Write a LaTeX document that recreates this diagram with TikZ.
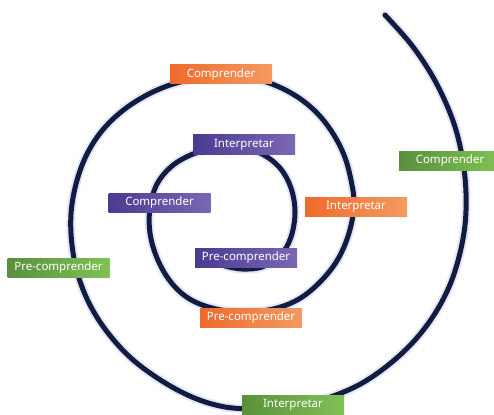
\documentclass[tikz,border=0pt]{standalone}
\usepackage{fontspec}
\setmainfont{Noto Sans}
\definecolor{navy}{HTML}{101C44}
\definecolor{halo}{HTML}{E6E7EE}
\definecolor{orL}{HTML}{EF6A2B}
\definecolor{orR}{HTML}{F39A62}
\definecolor{puL}{HTML}{4A3A91}
\definecolor{puR}{HTML}{7B68B4}
\definecolor{grL}{HTML}{5A903C}
\definecolor{grR}{HTML}{80C255}
\tikzset{
  spiral/.style={line width=5pt, draw=navy, line cap=round,
    preaction={draw=halo, line width=9pt, line cap=round}},
  tag/.style={minimum width=102pt, minimum height=19pt, inner sep=0pt,
    text=white, font=\fontsize{11.5}{13}\selectfont},
  orange/.style={tag, left color=orL, right color=orR},
  purple/.style={tag, left color=puL, right color=puR},
  green/.style={tag, left color=grL, right color=grR}
}
\begin{document}
\begin{tikzpicture}[x=1pt, y=-1pt]
\useasboundingbox (0,0) rectangle (494,414);
\draw[spiral] plot[smooth, tension=0.6] coordinates {
 (225,266) (242,269) (262,267) (280,256) (291,237) (295,212) (291,188) (280,168)
 (262,154) (240,148) (215,149) (193,154) (172,166) (157,184) (150,208) (150,233)
 (157,258) (170,281) (188,298) (212,308) (242,312) (273,309) (299,299)
 (321,281) (338,259) (349,233) (354,205) (351,180) (344,155) (332,132) (316,112)
 (296,96) (272,84) (246,77) (220,76) (195,79) (170,85) (145,96) (121,112)
 (101,132) (86,156) (76,184) (71,214) (72,245) (78,275) (90,305) (108,333)
 (132,359) (162,381) (192,397) (220,406) (247,409) (276,409) (306,404) (336,395)
 (364,382) (392,362) (415,340) (434,315) (449,287) (459,257) (465,225) (466,193)
 (463,162) (456,130) (445,101) (430,72) (410,43) (385,15)};
\node[purple] (i1) at (244,144.5) {Interpretar};
\node[purple] (c1) at (159.5,202.5) {Comprender};
\node[purple] (p1) at (246,257.5) {Pre-comprender};
\node[orange] (c2) at (221,74.5) {Comprender};
\node[orange] (i2) at (356,206.5) {Interpretar};
\node[orange] (p2) at (251,317.5) {Pre-comprender};
\node[green] (p3) at (58.5,267.5) {Pre-comprender};
\node[green] (c3) at (450,160.5) {Comprender};
\node[green] (i3) at (293,404.5) {Interpretar};
\end{tikzpicture}
\end{document}
